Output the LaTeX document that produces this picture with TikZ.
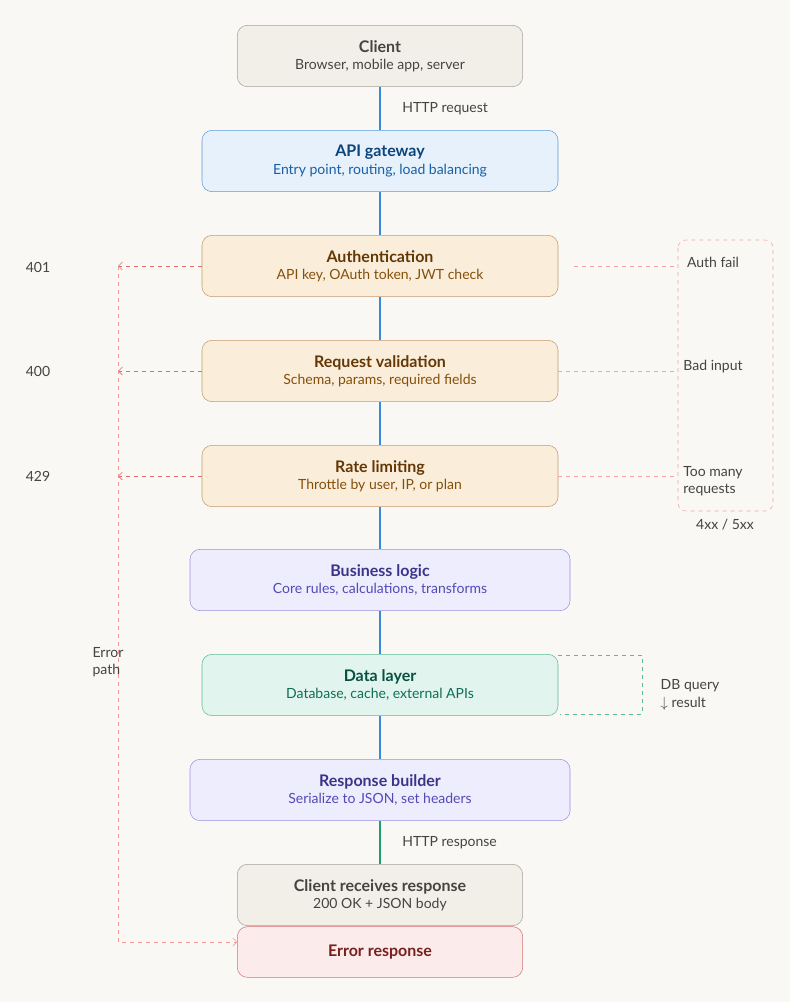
\documentclass[tikz,border=0pt]{standalone}
\usepackage{fontspec}
\setmainfont{Lato}
\usetikzlibrary
  {
    arrows.meta,  % open arrow heads
    positioning,  % place nodes relative to other nodes
  }
\definecolor{paper}{HTML}{FAF8F4}
\definecolor{greyfill}{HTML}{F1EFE8}
\definecolor{greydraw}{HTML}{A3A19B}
\definecolor{greytext}{HTML}{444441}
\definecolor{bluefill}{HTML}{E6F1FB}
\definecolor{bluedraw}{HTML}{5B9BDD}
\definecolor{bluetitle}{HTML}{0C447C}
\definecolor{bluesub}{HTML}{185FA5}
\definecolor{amberfill}{HTML}{FAEEDA}
\definecolor{amberdraw}{HTML}{C39A6B}
\definecolor{ambertitle}{HTML}{633806}
\definecolor{ambersub}{HTML}{854F0B}
\definecolor{purplefill}{HTML}{EEEDFE}
\definecolor{purpledraw}{HTML}{9A92E0}
\definecolor{purpletitle}{HTML}{3C3489}
\definecolor{purplesub}{HTML}{534AB7}
\definecolor{tealfill}{HTML}{E1F5EE}
\definecolor{tealdraw}{HTML}{5DBB95}
\definecolor{tealtitle}{HTML}{085041}
\definecolor{tealsub}{HTML}{0F6E56}
\definecolor{redfill}{HTML}{FCEBEB}
\definecolor{reddraw}{HTML}{D67373}
\definecolor{redtitle}{HTML}{791F1F}
\definecolor{redline}{HTML}{E46A6A}
\definecolor{pinkline}{HTML}{F3A3A0}
\definecolor{flowblue}{HTML}{378ADD}
\definecolor{flowgreen}{HTML}{1D9E75}
\newcommand{\boxtext}[2]{{\fontsize{12}{15}\selectfont\bfseries #1}\\[1pt]{\fontsize{10.5}{13}\selectfont #2}}

\begin{document}
\begin{tikzpicture}
    [
      x=0.75pt, y=-0.75pt,
      stage/.style=
        {
          rectangle,
          rounded corners=7.5pt,
          thin,
          align=center,
          minimum height=46pt,
          inner sep=0pt,
        },
      narrow/.style={stage, minimum width=214pt},
      wide/.style={stage, minimum width=267pt},
      wider/.style={stage, minimum width=285pt},
      grey stage/.style={draw=greydraw, fill=greyfill, text=greytext},
      blue stage/.style={draw=bluedraw, fill=bluefill, text=bluetitle},
      amber stage/.style={draw=amberdraw, fill=amberfill, text=ambertitle},
      purple stage/.style={draw=purpledraw, fill=purplefill, text=purpletitle},
      teal stage/.style={draw=tealdraw, fill=tealfill, text=tealtitle},
      red stage/.style={draw=reddraw, fill=redfill, text=redtitle},
      note/.style={text=greytext, font=\fontsize{10.5}{13}\selectfont, align=left},
      flow/.style={flowblue, thick},
      errarrow/.style={redline, dashed, thin, -{Straight Barb[length=3pt,width=6pt]}},
      errline/.style={pinkline, dashed, thin},
    ]
    \fill[paper] (0,0) rectangle (790,1002);

    % main pipeline
    \node[narrow, grey stage]   (client)   at (380,56)
      {\boxtext{Client}{Browser, mobile app, server}};
    \node[wide, blue stage]     (gateway)  at (380,161)
      {\boxtext{API gateway}{\color{bluesub}Entry point, routing, load balancing}};
    \node[wide, amber stage]    (auth)     at (380,266)
      {\boxtext{Authentication}{\color{ambersub}API key, OAuth token, JWT check}};
    \node[wide, amber stage]    (validate) at (380,371)
      {\boxtext{Request validation}{\color{ambersub}Schema, params, required fields}};
    \node[wide, amber stage]    (limit)    at (380,476)
      {\boxtext{Rate limiting}{\color{ambersub}Throttle by user, IP, or plan}};
    \node[wider, purple stage]  (logic)    at (380,580)
      {\boxtext{Business logic}{\color{purplesub}Core rules, calculations, transforms}};
    \node[wide, teal stage]     (data)     at (380,685)
      {\boxtext{Data layer}{\color{tealsub}Database, cache, external APIs}};
    \node[wider, purple stage]  (builder)  at (380,790)
      {\boxtext{Response builder}{\color{purplesub}Serialize to JSON, set headers}};
    \node[narrow, grey stage]   (received) at (380,895)
      {\boxtext{Client receives response}{200 OK + JSON body}};
    \node[narrow, red stage, minimum height=38pt] (errresp) at (380,952)
      {{\fontsize{12}{15}\selectfont\bfseries Error response}};

    \draw[flow] (client) -- (gateway) node[note, midway, right=13pt] {HTTP request};
    \foreach \a/\b in {gateway/auth, auth/validate, validate/limit, limit/logic, logic/data, data/builder}
      \draw[flow] (\a) -- (\b);
    \draw[flowgreen, thick] (builder) -- (received) node[note, midway, right=13pt] {HTTP response};

    % error path
    \coordinate (errtop) at (118,266);
    \coordinate (errbot) at (118,942);
    \draw[errarrow] (auth.west) -- (errtop);
    \draw[errarrow] (validate.west) -- (118,371);
    \draw[errarrow] (limit.west) -- (118,476);
    \draw[errarrow, pinkline!80!redline] (errtop) -- (errbot) -- (errresp.west |- errbot);
    \node[note] (code401) at (38,267) {401};
    \node[note] (code400) at (38,371) {400};
    \node[note] (code429) at (38,476) {429};
    \node[note] (errlabel) at (108,662) {Error\\path};

    % failure group
    \draw[errline, rounded corners=6pt] (678,240) rectangle (773,511);
    \draw[errline] (574,266) -- (678,266);
    \draw[errline] (validate.east) -- (678,371);
    \draw[errline] (limit.east) -- (678,476);
    \node[note] (authfail) at (713,262) {Auth fail};
    \node[note] (badinput) at (713,367) {Bad input};
    \node[note] (toomany)  at (713,481) {Too many\\requests};
    \node[note] (codes)    at (725,525) {4xx / 5xx};

    % data round trip
    \draw[tealdraw, dashed, thin] (558,655) -- (642,655) -- (642,714) -- (560,714);
    \node[note, anchor=west] (dbquery) at (656,695) {DB query\\$\downarrow$ result};
  \end{tikzpicture}
\end{document}
